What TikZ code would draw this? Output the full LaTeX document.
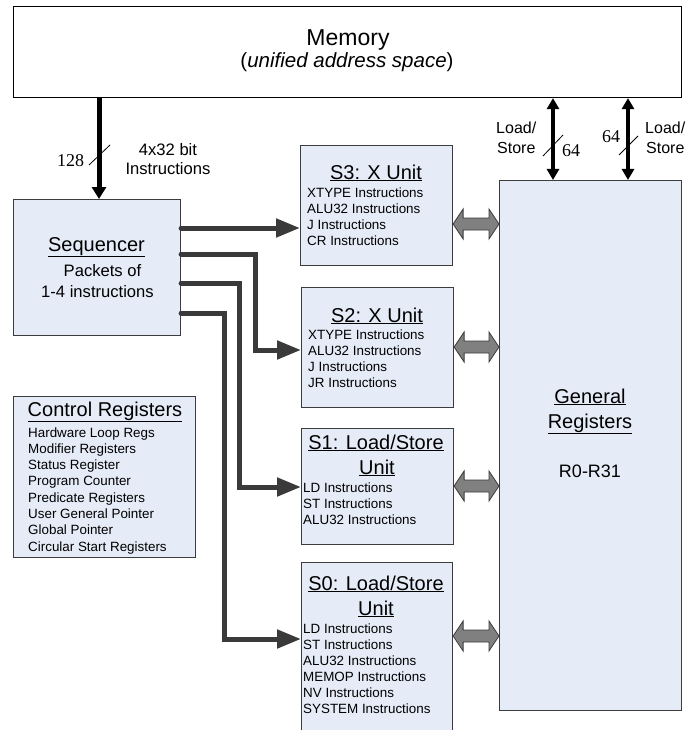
\documentclass[tikz,border=0pt]{standalone}
\usepackage{fontspec}
\setmainfont{Liberation Sans}
\newfontfamily\numfont{Liberation Serif}
\usetikzlibrary{arrows.meta,calc}
\definecolor{boxfill}{RGB}{230,236,247}
\definecolor{boxline}{RGB}{60,60,60}
\definecolor{busline}{RGB}{58,58,58}
\definecolor{portfill}{RGB}{128,128,128}

\newcommand{\portarrow}[3]{%
  \draw[port] (#1.east |- 0,#3) -- ++(10,-15) -- ++(0,9)
    -- ($(#2.west |- 0,#3)+(-10,-6)$) -- ++(0,-9) -- (#2.west |- 0,#3)
    -- ++(-10,15) -- ++(0,-9) -- ($(#1.east |- 0,#3)+(10,6)$) -- ++(0,9) -- cycle;}

\begin{document}
\begin{tikzpicture}[x=1pt,y=-1pt,
  box/.style={draw=boxline, fill=boxfill, line width=1.1pt, inner sep=0pt, anchor=north west},
  lbl/.style={inner sep=0pt, anchor=base},
  ttl/.style={lbl, font=\fontsize{20}{24}\selectfont},
  sub/.style={lbl, font=\fontsize{16.6}{20}\selectfont},
  itm/.style={inner sep=0pt, anchor=base west, font=\fontsize{13.4}{16}\selectfont},
  num/.style={inner sep=0pt, anchor=base west, font=\numfont\fontsize{18}{20}\selectfont},
  bus/.style={draw=busline, line width=5pt, line cap=round, line join=miter,
    -{Triangle[length=24pt,width=18pt]}},
  fetch/.style={draw=black, line width=5pt, -{Triangle[length=12pt,width=14pt]}},
  ldst/.style={draw=black, line width=4pt,
    {Triangle[length=11pt,width=12pt]}-{Triangle[length=11pt,width=12pt]}},
  slash/.style={draw=black, line width=0.8pt},
  port/.style={draw=boxline, fill=portfill, line width=0.8pt, line join=miter}]

\useasboundingbox (0,0) rectangle (687,730);
\clip (0,0) rectangle (687,730);

% blocks
\node[box, fill=white, draw=black, minimum width=668pt, minimum height=91pt] (mem) at (13,6) {};
\node[box, minimum width=167pt, minimum height=136pt] (seq) at (13,199) {};
\node[box, minimum width=182pt, minimum height=161pt] (ctrl) at (13,396) {};
\node[box, minimum width=152pt, minimum height=120pt] (s3) at (300,145) {};
\node[box, minimum width=152pt, minimum height=120pt] (s2) at (301,287) {};
\node[box, minimum width=152pt, minimum height=116pt] (s1) at (301,428) {};
\node[box, minimum width=151pt, minimum height=190pt] (s0) at (301,562) {};
\node[box, minimum width=182pt, minimum height=530pt] (gr) at (499,180) {};

% memory
\node[lbl, font=\fontsize{23}{26}\selectfont] (memname) at (348,46) {Memory};
\node[lbl, font=\fontsize{20.5}{24}\selectfont] (memnote) at (347,68) {(\textit{unified address space})};

% instruction fetch bus
\draw[fetch] (mem.south -| 99,0) -- (seq.north -| 99,0);
\draw[slash] (89,165) -- (110,145);
\node[num] (w128) at (57,167) {128};
\node[sub] (fetch1) at (168,156) {4x32 bit};
\node[sub] (fetch2) at (168,175) {Instructions};

% load/store buses
\draw[ldst] (mem.south -| 553,0) -- (gr.north -| 553,0);
\draw[ldst] (mem.south -| 628,0) -- (gr.north -| 628,0);
\draw[slash] (543,156) -- (563,135);
\draw[slash] (619,155) -- (638,136);
\node[num] (wl) at (562,157) {64};
\node[num] (wr) at (602,143) {64};
\node[sub, anchor=base west, font=\fontsize{16}{20}\selectfont] (ls1a) at (496,134) {Load/};
\node[sub, anchor=base west, font=\fontsize{16}{20}\selectfont] (ls1b) at (497,154) {Store};
\node[sub, anchor=base west, font=\fontsize{16}{20}\selectfont] (ls2a) at (645,134) {Load/};
\node[sub, anchor=base west, font=\fontsize{16}{20}\selectfont] (ls2b) at (646,154) {Store};

% sequencer
\node[ttl] (seqname) at (96.5,251) {\underline{Sequencer}};
\node[sub] (seq1) at (102.5,276) {Packets of};
\node[sub] (seq2) at (97.5,297) {1-4 instructions};

% control registers
\node[ttl] (ctrlname) at (105,416) {\underline{Control Registers}};
\foreach \t [count=\i from 0] in {Hardware Loop Regs, Modifier Registers, Status Register,
    Program Counter, Predicate Registers, User General Pointer, Global Pointer,
    Circular Start Registers}
  \node[itm] (ctrl\i) at (28,437+16.3*\i) {\t};

% S3
\node[ttl] (s3name) at (376,179) {\underline{S3: X Unit}};
\foreach \t [count=\i from 0] in {XTYPE Instructions, ALU32 Instructions, J Instructions, CR Instructions}
  \node[itm] (s3i\i) at (307,197+16*\i) {\t};

% S2
\node[ttl] (s2name) at (377,322) {\underline{S2: X Unit}};
\foreach \t [count=\i from 0] in {XTYPE Instructions, ALU32 Instructions, J Instructions, JR Instructions}
  \node[itm] (s2i\i) at (308,339+16*\i) {\t};

% S1
\node[ttl] (s1name) at (376,449) {\underline{S1: Load/Store}};
\node[ttl] (s1unit) at (377,474) {\underline{Unit}};
\foreach \t [count=\i from 0] in {LD Instructions, ST Instructions, ALU32 Instructions}
  \node[itm] (s1i\i) at (303,492+16*\i) {\t};

% S0
\node[ttl] (s0name) at (376,590) {\underline{S0: Load/Store}};
\node[ttl] (s0unit) at (376,615) {\underline{Unit}};
\foreach \t [count=\i from 0] in {LD Instructions, ST Instructions, ALU32 Instructions,
    MEMOP Instructions, NV Instructions, SYSTEM Instructions}
  \node[itm] (s0i\i) at (303,633+16*\i) {\t};

% general registers
\node[ttl] (grname1) at (590,403) {\underline{General}};
\node[ttl] (grname2) at (590,428) {\underline{Registers}};
\node[lbl, font=\fontsize{18}{20}\selectfont] (grrange) at (590,477) {R0-R31};

% issue paths from the sequencer
\draw[bus] (seq.east |- 0,228) -- (s3.west |- 0,228);
\draw[bus] (seq.east |- 0,254) -- (255,254) |- (s2.west |- 0,350);
\draw[bus] (seq.east |- 0,283) -- (239,283) |- (s1.west |- 0,487);
\draw[bus] (seq.east |- 0,313) -- (224,313) |- (s0.west |- 0,639);

% register file ports
\portarrow{s3}{gr}{224}
\portarrow{s2}{gr}{347}
\portarrow{s1}{gr}{486}
\portarrow{s0}{gr}{636}

\end{tikzpicture}
\end{document}
